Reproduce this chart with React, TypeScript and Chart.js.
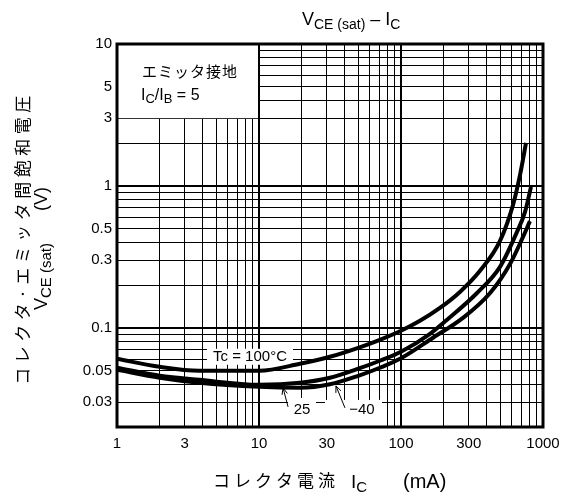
import { useEffect, useRef } from 'react';
import { Chart, registerables } from 'chart.js';
Chart.register(...registerables);

// ---- data ----
const IC_100 = [1, 2, 3.8, 10, 19.4, 31.6, 50, 71, 100, 136, 188, 260, 360, 498, 615, 689, 759];
const VCE_100 = [0.0605, 0.0531, 0.0498, 0.0498, 0.0558, 0.0625, 0.0723, 0.0823, 0.0953, 0.112, 0.138, 0.179, 0.252, 0.41, 0.735, 1.195, 2.01];
const IC_25 = [1, 2, 3.8, 10, 19.4, 31.6, 50, 71, 100, 160, 211, 343, 498, 656, 747, 823];
const VCE_25 = [0.0523, 0.0459, 0.043, 0.0397, 0.041, 0.0445, 0.0515, 0.0586, 0.0678, 0.0907, 0.114, 0.176, 0.269, 0.474, 0.656, 0.984];
const IC_M40 = [1, 2, 3.8, 10, 19.4, 31.6, 50, 71, 100, 168, 273, 424, 586, 723, 809];
const VCE_M40 = [0.0506, 0.0445, 0.041, 0.0384, 0.0378, 0.04, 0.0459, 0.0523, 0.061, 0.0851, 0.1175, 0.176, 0.282, 0.437, 0.565];

const X_LABEL_VALUES = [1, 3, 10, 30, 100, 300, 1000];
const X_LABELS = ['1', '3', '10', '30', '100', '300', '1000'];
const Y_LABEL_VALUES = [10, 5, 3, 1, 0.5, 0.3, 0.1, 0.05, 0.03];
const Y_LABELS = ['10', '5', '3', '1', '0.5', '0.3', '0.1', '0.05', '0.03'];
const X_MIN = 1, X_MAX = 1000, Y_MIN = 0.02, Y_MAX = 10;

const LATIN = '"Liberation Sans", Arial, sans-serif';
const CJK = '"Noto Sans CJK JP", sans-serif';

function gridValues(min: number, max: number) {
  const out: number[] = [];
  for (let e = Math.floor(Math.log10(min)); e <= Math.ceil(Math.log10(max)); e++) {
    for (let m = 1; m <= 9; m++) {
      const v = parseFloat((m * Math.pow(10, e)).toPrecision(3));
      if (v >= min * 0.999 && v <= max * 1.001) out.push(v);
    }
  }
  return out;
}
const isMajor = (v: number) => Math.abs(Math.log10(v) - Math.round(Math.log10(v))) < 1e-6;
const labelFor = (v: number, vals: number[], labels: string[]) => {
  const i = vals.findIndex((a) => Math.abs(a - v) / a < 1e-4);
  return i >= 0 ? labels[i] : '';
};

type Run = { t: string; f: string; dy?: number; sp?: number; gap?: number };
function runsWidth(ctx: CanvasRenderingContext2D, runs: Run[]) {
  let w = 0;
  for (const r of runs) {
    w += r.gap || 0;
    ctx.font = r.f;
    for (const ch of Array.from(r.t)) w += ctx.measureText(ch).width + (r.sp || 0);
  }
  return w;
}
function drawRuns(ctx: CanvasRenderingContext2D, runs: Run[], x: number, y: number) {
  for (const r of runs) {
    x += r.gap || 0;
    ctx.font = r.f;
    for (const ch of Array.from(r.t)) {
      ctx.fillText(ch, x, y + (r.dy || 0));
      x += ctx.measureText(ch).width + (r.sp || 0);
    }
  }
}
function arrow(ctx: CanvasRenderingContext2D, x1: number, y1: number, x2: number, y2: number) {
  ctx.beginPath();
  ctx.moveTo(x1, y1);
  ctx.lineTo(x2, y2);
  const a = Math.atan2(y2 - y1, x2 - x1);
  const L = 7, s = 0.4;
  ctx.moveTo(x2 - L * Math.cos(a - s), y2 - L * Math.sin(a - s));
  ctx.lineTo(x2, y2);
  ctx.lineTo(x2 - L * Math.cos(a + s), y2 - L * Math.sin(a + s));
  ctx.stroke();
}

const decorPlugin = {
  id: 'decor',
  beforeDatasetsDraw(chart: any) {
    const { ctx, scales } = chart;
    const x = scales.x, y = scales.y;
    ctx.save();
    ctx.fillStyle = '#fff';
    // legend box (1..10 mA, 3..10 V)
    const l = x.getPixelForValue(1), r = x.getPixelForValue(10);
    const t = y.getPixelForValue(10), b = y.getPixelForValue(3);
    ctx.fillRect(l, t, r - 1 - l, b - t);
    // label backgrounds
    const tcx = x.getPixelForValue(8.64), tcy = y.getPixelForValue(0.0625);
    ctx.fillRect(tcx - 43, tcy - 8, 86, 16);
    const bottom = chart.chartArea.bottom;
    const ax = x.getPixelForValue(20.1), ay = y.getPixelForValue(0.0264);
    ctx.fillRect(ax - 14, ay - 12, 28, bottom - (ay - 12));
    const mx = x.getPixelForValue(53.1), my = y.getPixelForValue(0.0264);
    ctx.fillRect(mx - 37, my - 10, 57, bottom - (my - 10));
    ctx.restore();
  },
  afterDatasetsDraw(chart: any) {
    const { ctx, scales, chartArea } = chart;
    const x = scales.x, y = scales.y;
    ctx.save();
    ctx.fillStyle = '#000';
    ctx.strokeStyle = '#000';
    // legend text
    ctx.textBaseline = 'middle';
    ctx.textAlign = 'left';
    const l = x.getPixelForValue(1), t = y.getPixelForValue(10);
    drawRuns(ctx, [{ t: 'エミッタ接地', f: `15px ${CJK}`, sp: 1 }], l + 25, t + 27);
    ctx.textBaseline = 'alphabetic';
    drawRuns(ctx, [
      { t: 'I', f: `16px ${LATIN}` },
      { t: 'C', f: `13px ${LATIN}`, dy: 3 },
      { t: '/I', f: `16px ${LATIN}` },
      { t: 'B', f: `13px ${LATIN}`, dy: 3 },
      { t: ' = 5', f: `16px ${LATIN}` },
    ], l + 24, t + 56);
    // curve labels
    ctx.textBaseline = 'middle';
    ctx.textAlign = 'center';
    ctx.font = `15px ${LATIN}`;
    const tcx = x.getPixelForValue(8.64), tcy = y.getPixelForValue(0.0625);
    ctx.fillText('Tc = 100°C', tcx, tcy);
    const ax = x.getPixelForValue(20.1), ay = y.getPixelForValue(0.0264);
    ctx.fillText('25', ax, ay);
    const mx = x.getPixelForValue(53.1), my = y.getPixelForValue(0.0264);
    ctx.fillText('\u221240', mx, my);
    ctx.lineWidth = 1;
    arrow(ctx, ax - 14, ay - 3, ax - 19, ay - 22);
    arrow(ctx, mx - 17, my - 2, mx - 26, my - 24);
    // frame
    ctx.lineWidth = 3;
    ctx.strokeRect(chartArea.left, chartArea.top, chartArea.right - chartArea.left, chartArea.bottom - chartArea.top);
    ctx.restore();
  },
  afterDraw(chart: any) {
    const { ctx } = chart;
    ctx.save();
    ctx.fillStyle = '#000';
    ctx.textAlign = 'left';
    // title
    ctx.textBaseline = 'alphabetic';
    drawRuns(ctx, [
      { t: 'V', f: `18px ${LATIN}` },
      { t: 'CE (sat)', f: `14px ${LATIN}`, dy: 4 },
      { t: ' \u2013 I', f: `18px ${LATIN}` },
      { t: 'C', f: `14px ${LATIN}`, dy: 4 },
    ], 302, 25);
    // x title
    ctx.textBaseline = 'middle';
    drawRuns(ctx, [{ t: 'コレクタ電流', f: `17px ${CJK}`, sp: 4 }], 213, 481);
    ctx.textBaseline = 'alphabetic';
    drawRuns(ctx, [
      { t: 'I', f: `19px ${LATIN}` },
      { t: 'C', f: `15px ${LATIN}`, dy: 4 },
    ], 351, 488);
    drawRuns(ctx, [{ t: '(mA)', f: `20px ${LATIN}` }], 403, 488);
    // y title line 1
    ctx.save();
    ctx.translate(23, 238);
    ctx.rotate(-Math.PI / 2);
    ctx.textBaseline = 'middle';
    const r1: Run[] = [{ t: 'コレクタ·エミッタ間飽和電圧', f: `17px ${CJK}`, sp: 4.5 }];
    const w1 = runsWidth(ctx, r1);
    drawRuns(ctx, r1, -w1 / 2, 0);
    ctx.restore();
    // y title line 2 (starts near y = 310, reads upward)
    ctx.save();
    ctx.translate(47, 310);
    ctx.rotate(-Math.PI / 2);
    ctx.textBaseline = 'alphabetic';
    const r2: Run[] = [
      { t: 'V', f: `18px ${LATIN}` },
      { t: 'CE (sat)', f: `15px ${LATIN}`, dy: 4 },
      { t: '(V)', f: `18px ${LATIN}`, gap: 32 },
    ];
    drawRuns(ctx, r2, 0, 0);
    ctx.restore();
    ctx.restore();
  },
};

export default function App() {
  const ref = useRef<HTMLCanvasElement>(null);
  useEffect(() => {
    document.body.style.margin = '0';
    const mk = (xs: number[], ys: number[]) => xs.map((v, i) => ({ x: v, y: ys[i] }));
    const ds = (data: any) => ({
      data,
      borderColor: '#000',
      borderWidth: 4,
      pointRadius: 0,
      showLine: true,
      fill: false,
      cubicInterpolationMode: 'monotone' as const,
    });
    const gridOpts = {
      color: '#000',
      drawTicks: false,
      lineWidth: (c: any) => (c.tick && isMajor(c.tick.value) ? 2 : 1),
    };
    const chart = new Chart(ref.current!, {
      type: 'scatter',
      data: {
        datasets: [
          ds(mk(IC_100, VCE_100)),
          ds(mk(IC_25, VCE_25)),
          ds(mk(IC_M40, VCE_M40)),
        ],
      },
      options: {
        responsive: false,
        animation: false,
        layout: { padding: { left: 0, top: 44, right: 25, bottom: 0 } },
        plugins: { legend: { display: false }, tooltip: { enabled: false }, title: { display: false } },
        scales: {
          x: {
            type: 'logarithmic',
            min: X_MIN,
            max: X_MAX,
            afterBuildTicks: (s: any) => { s.ticks = gridValues(X_MIN, X_MAX).map((v) => ({ value: v })); },
            afterFit: (s: any) => { s.height = 72; },
            ticks: {
              autoSkip: false,
              maxRotation: 0,
              minRotation: 0,
              padding: 8,
              color: '#000',
              font: { family: LATIN, size: 15 },
              callback: (v: any) => labelFor(Number(v), X_LABEL_VALUES, X_LABELS),
            },
            grid: gridOpts,
            border: { display: false },
          },
          y: {
            type: 'logarithmic',
            min: Y_MIN,
            max: Y_MAX,
            afterBuildTicks: (s: any) => { s.ticks = gridValues(Y_MIN, Y_MAX).map((v) => ({ value: v })); },
            afterFit: (s: any) => { s.width = 117; },
            ticks: {
              autoSkip: false,
              padding: 5,
              color: '#000',
              font: { family: LATIN, size: 15 },
              callback: (v: any) => labelFor(Number(v), Y_LABEL_VALUES, Y_LABELS),
            },
            grid: gridOpts,
            border: { display: false },
          },
        },
      },
      plugins: [decorPlugin],
    } as any);
    return () => chart.destroy();
  }, []);
  return (
    <div style={{ position: 'absolute', left: 0, top: 0, width: 568, height: 499, background: '#fff' }}>
      <canvas ref={ref} width={568} height={499} />
    </div>
  );
}
